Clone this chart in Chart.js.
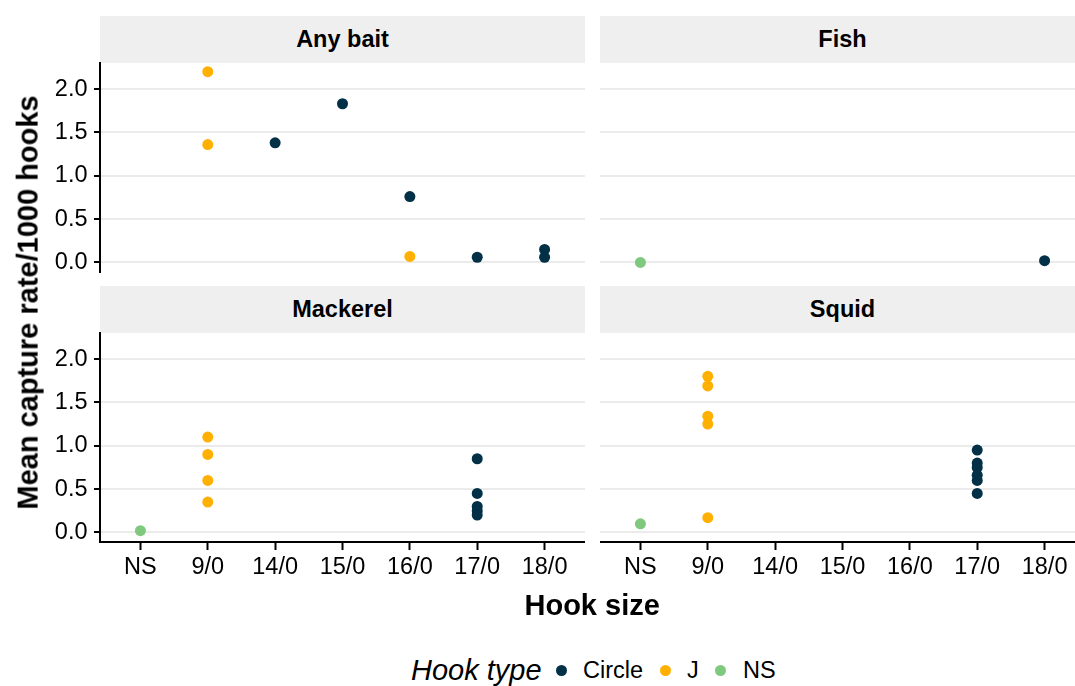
<!DOCTYPE html>
<html>
<head>
<meta charset="utf-8">
<script src="https://cdn.jsdelivr.net/npm/chart.js@4"></script>
<style>
    html, body { margin: 0; padding: 0; background: #fff; }
    body { width: 1075px; height: 686px; position: relative; overflow: hidden;
           font-family: "Liberation Sans", Arial, sans-serif; color: #000; }
    canvas { position: absolute; }
    .strip { position: absolute; background: #EFEFEF; display: flex; align-items: center;
             justify-content: center; font-weight: bold; font-size: 23.5px; }
    .title { position: absolute; font-weight: bold; font-size: 29px; white-space: nowrap; }
    .legend { position: absolute; font-size: 23.5px; white-space: nowrap; line-height: 1; }
    .dot { position: absolute; width: 11px; height: 11px; border-radius: 50%; }
</style>
</head>
<body>

<div class="strip" style="left:100px; top:16px; width:485px; height:47px;">Any bait</div>
<div class="strip" style="left:600px; top:16px; width:485px; height:47px;">Fish</div>
<div class="strip" style="left:100px; top:286px; width:485px; height:47px;">Mackerel</div>
<div class="strip" style="left:600px; top:286px; width:485px; height:47px;">Squid</div>

<canvas id="anyBait"></canvas>
<canvas id="fish"></canvas>
<canvas id="mackerel"></canvas>
<canvas id="squid"></canvas>

<div class="title" id="yTitle">Mean capture rate/1000 hooks</div>
<div class="title" id="xTitle">Hook size</div>

<div class="legend" style="left:411px; top:656px; font-style:italic; font-size:29px;">Hook type</div>
<span class="dot" style="left:556px; top:665px; background:#023047;"></span>
<div class="legend" style="left:583px; top:659px;">Circle</div>
<span class="dot" style="left:660px; top:665px; background:#FFB000;"></span>
<div class="legend" style="left:687px; top:659px;">J</div>
<span class="dot" style="left:715px; top:665px; background:#7FC97F;"></span>
<div class="legend" style="left:743px; top:659px;">NS</div>

<script>
// ==================== DỮ LIỆU ====================
const hookSizes = ['NS', '9/0', '14/0', '15/0', '16/0', '17/0', '18/0'];
const hookTypes = ['Circle', 'J', 'NS'];
const typeColors = ['#023047', '#FFB000', '#7FC97F'];
const yTicks = [0, 0.5, 1, 1.5, 2];

// Any bait
const anyBaitSize = ['9/0', '9/0', '14/0', '15/0', '16/0', '16/0', '17/0', '18/0', '18/0'];
const anyBaitType = ['J', 'J', 'Circle', 'Circle', 'Circle', 'J', 'Circle', 'Circle', 'Circle'];
const anyBaitRate = [2.20, 1.36, 1.38, 1.83, 0.76, 0.07, 0.06, 0.15, 0.06];

// Fish
const fishSize = ['NS', '18/0'];
const fishType = ['NS', 'Circle'];
const fishRate = [0.00, 0.02];

// Mackerel
const mackerelSize = ['NS', '9/0', '9/0', '9/0', '9/0', '17/0', '17/0', '17/0', '17/0', '17/0'];
const mackerelType = ['NS', 'J', 'J', 'J', 'J', 'Circle', 'Circle', 'Circle', 'Circle', 'Circle'];
const mackerelRate = [0.02, 1.10, 0.90, 0.60, 0.35, 0.85, 0.45, 0.30, 0.25, 0.20];

// Squid
const squidSize = ['NS', '9/0', '9/0', '9/0', '9/0', '9/0', '17/0', '17/0', '17/0', '17/0', '17/0', '17/0'];
const squidType = ['NS', 'J', 'J', 'J', 'J', 'J', 'Circle', 'Circle', 'Circle', 'Circle', 'Circle', 'Circle'];
const squidRate = [0.10, 1.80, 1.69, 1.34, 1.25, 0.17, 0.95, 0.80, 0.75, 0.66, 0.60, 0.45];

// ==================== BỐ CỤC ====================
const AREA_H = 209, AREA_W = 485, MARGIN = 30, Y_AXIS_W = 100, X_AXIS_H = 60;
const TICK_FONT = { family: '"Liberation Sans", Arial, sans-serif', size: 23.5 };

function buildDatasets(sizes, types, rates) {
    return hookTypes.map((t, k) => ({
        label: t,
        data: rates.map((r, i) => ({ x: hookSizes.indexOf(sizes[i]) + 1, y: r, t: types[i] }))
                   .filter(p => p.t === t),
        backgroundColor: typeColors[k],
        borderWidth: 0,
        pointRadius: 5.5,
        pointHoverRadius: 5.5
    }));
}

function makePanel(id, left, areaTop, sizes, types, rates, showY, showX) {
    const canvas = document.getElementById(id);
    const w = (showY ? Y_AXIS_W : 0) + AREA_W;
    const h = MARGIN + AREA_H + (showX ? X_AXIS_H : MARGIN);
    canvas.width = w;
    canvas.height = h;
    canvas.style.left = (showY ? left - Y_AXIS_W : left) + 'px';
    canvas.style.top = (areaTop - MARGIN) + 'px';

    new Chart(canvas, {
        type: 'scatter',
        data: { datasets: buildDatasets(sizes, types, rates) },
        options: {
            responsive: false,
            animation: false,
            layout: { autoPadding: false,
                      padding: { top: MARGIN, bottom: showX ? 0 : MARGIN, left: 0, right: 0 } },
            plugins: { legend: { display: false }, tooltip: { enabled: false } },
            scales: {
                x: {
                    type: 'linear', min: 0.4, max: 7.6,
                    display: showX,
                    afterBuildTicks: s => { s.ticks = hookSizes.map((_, i) => ({ value: i + 1 })); },
                    afterFit: s => { s.height = showX ? X_AXIS_H : 0; },
                    ticks: { color: '#000', font: TICK_FONT, padding: 3, maxRotation: 0, autoSkip: false,
                             callback: v => hookSizes[Math.round(v) - 1] },
                    grid: { drawOnChartArea: false, drawTicks: true, tickLength: 8, tickColor: '#000', tickWidth: 2 },
                    border: { display: true, color: '#000', width: 2 }
                },
                y: {
                    type: 'linear', min: -0.11, max: 2.30,
                    afterBuildTicks: s => { s.ticks = yTicks.map(v => ({ value: v })); },
                    afterFit: s => { s.width = showY ? Y_AXIS_W : 0; },
                    ticks: { display: showY, color: '#000', font: TICK_FONT, padding: 6.5,
                             callback: v => v.toFixed(1) },
                    grid: { color: '#EBEBEB', lineWidth: 2, drawTicks: showY, tickLength: 6,
                            tickColor: '#000', tickWidth: 2 },
                    border: { display: showY, color: '#000', width: 2 }
                }
            }
        }
    });
}

// ==================== KHỞI TẠO ====================
makePanel('anyBait', 100, 63, anyBaitSize, anyBaitType, anyBaitRate, true, false);
makePanel('fish', 600, 63, fishSize, fishType, fishRate, false, false);
makePanel('mackerel', 100, 333, mackerelSize, mackerelType, mackerelRate, true, true);
makePanel('squid', 600, 333, squidSize, squidType, squidRate, false, true);

// Tiêu đề trục
const yTitle = document.getElementById('yTitle');
yTitle.style.left = (28 - yTitle.offsetWidth / 2) + 'px';
yTitle.style.top = (302 - yTitle.offsetHeight / 2) + 'px';
yTitle.style.transform = 'rotate(-90deg)';

const xTitle = document.getElementById('xTitle');
xTitle.style.left = (592 - xTitle.offsetWidth / 2) + 'px';
xTitle.style.top = (605 - xTitle.offsetHeight / 2) + 'px';
</script>
</body>
</html>
